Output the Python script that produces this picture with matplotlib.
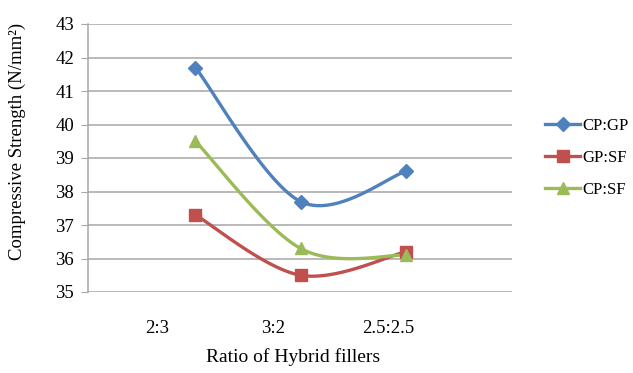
import numpy as np
import matplotlib.pyplot as plt

# Compressive strength for each pair of hybrid fillers
ratios = ['2:3', '3:2', '2.5:2.5']
cp_gp = [41.7, 37.7, 38.6]
gp_sf = [37.3, 35.5, 36.2]
cp_sf = [39.5, 36.3, 36.1]


def smooth(x, y, n=40):
    # Catmull-Rom style bezier, like the "smoothed line" option in spreadsheets
    x = np.asarray(x, float)
    y = np.asarray(y, float)
    px = np.concatenate([[x[0]], x, [x[-1]]])
    py = np.concatenate([[y[0]], y, [y[-1]]])
    xs, ys = [], []
    t = np.linspace(0, 1, n)
    for i in range(1, len(px) - 2):
        p0 = np.array([px[i], py[i]])
        p3 = np.array([px[i + 1], py[i + 1]])
        p1 = p0 + (np.array([px[i + 1], py[i + 1]]) - np.array([px[i - 1], py[i - 1]])) / 6
        p2 = p3 - (np.array([px[i + 2], py[i + 2]]) - np.array([px[i], py[i]])) / 6
        b = ((1 - t) ** 3)[:, None] * p0 + (3 * (1 - t) ** 2 * t)[:, None] * p1 \
            + (3 * (1 - t) * t ** 2)[:, None] * p2 + (t ** 3)[:, None] * p3
        xs.append(b[:, 0])
        ys.append(b[:, 1])
    return np.concatenate(xs), np.concatenate(ys)


plt.rcParams['font.family'] = ['Liberation Serif', 'DejaVu Serif']
plt.rcParams['font.size'] = 13.5

fig = plt.figure(figsize=(6.33, 3.73), dpi=100)
ax = fig.add_axes([88 / 633, 1 - 292 / 373, 424 / 633, 268 / 373])

tick_pos = np.arange(1, len(ratios) + 1)
# markers sit a little to the right of their category labels
point_pos = 1.33 + 0.91 * np.arange(len(ratios))

series = [
    ('CP:GP', cp_gp, '#4F81BD', 'D', 7),
    ('GP:SF', gp_sf, '#C0504D', 's', 8),
    ('CP:SF', cp_sf, '#9BBB59', '^', 8.5),
]
for name, vals, col, mk, ms in series:
    sx, sy = smooth(point_pos, vals)
    ax.plot(sx, sy, color=col, lw=2.4, solid_capstyle='round', zorder=3)
    ax.plot(point_pos, vals, linestyle='none', marker=mk, ms=ms, color=col, zorder=4)
    ax.plot([], [], color=col, lw=2.4, marker=mk, ms=ms, label=name)

ax.set_xlim(0.40, 4.07)
ax.set_ylim(35, 43)
ax.set_yticks(range(35, 44))
ax.set_xticks(tick_pos)
ax.set_xticklabels(ratios)
ax.grid(axis='y', color='#A6A6A6', lw=1.1)
ax.set_axisbelow(True)
for s in ['top', 'right', 'bottom']:
    ax.spines[s].set_visible(False)
ax.spines['left'].set_color('#A6A6A6')
ax.spines['left'].set_linewidth(1.1)
ax.tick_params(axis='y', length=5, color='#A6A6A6', pad=5)
ax.tick_params(axis='x', length=0, pad=20)

ax.set_xlabel('Ratio of Hybrid fillers', fontsize=14)
ax.set_ylabel('Compressive Strength (N/mm²)', fontsize=13.5)
ax.xaxis.set_label_coords(0.483, -0.21)
ax.yaxis.set_label_coords(-0.146, 0.563)

fig.legend(loc='center left', bbox_to_anchor=(545 / 633, 1 - 158 / 373), frameon=False,
           borderpad=0, borderaxespad=0, handlelength=2.1, handletextpad=0.15,
           labelspacing=0.95, fontsize=12)

fig.savefig('out.png', dpi=100)
